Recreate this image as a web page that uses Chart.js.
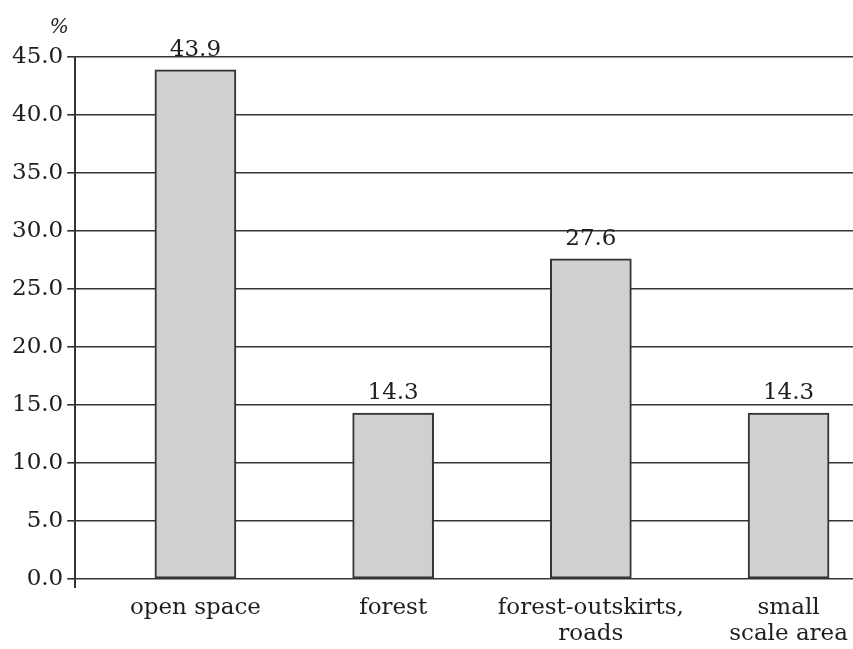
<!DOCTYPE html>
<html><head><meta charset="utf-8">
<script src="https://cdn.jsdelivr.net/npm/chart.js@4"></script>
<style>
html,body{margin:0;padding:0;background:#fff;overflow:hidden}
#clip{width:853px;height:649px;overflow:hidden;position:relative;background:#fff}
#wrap{width:960px;height:654px}
</style></head><body>
<div id="clip"><div id="wrap"><canvas id="c" width="960" height="654"></canvas></div></div>
<script>
const categories = [["open space"], ["forest"], ["forest-outskirts,", "roads"], ["small", "scale area"]];
const values = [43.9, 14.3, 27.6, 14.3];
const valueLabels = ["43.9", "14.3", "27.6", "14.3"];
const yTicks = [0, 5, 10, 15, 20, 25, 30, 35, 40, 45];
const yUnit = "%";

const FONT = "DejaVu Serif";
const INK = "#1e1e1e";
const X_MIN = -0.608, X_MAX = 3.867;

const labelPlugin = {
  id: 'labels',
  afterDatasetsDraw(chart) {
    const ctx = chart.ctx;
    const meta = chart.getDatasetMeta(0);
    ctx.save();
    ctx.fillStyle = INK;
    ctx.font = "23px '" + FONT + "'";
    ctx.textAlign = 'center';
    ctx.textBaseline = 'alphabetic';
    meta.data.forEach((bar, i) => {
      ctx.fillText(valueLabels[i], bar.x, bar.y - 14);
    });
    const ys = chart.scales.y;
    ctx.font = "italic 20px '" + FONT + "'";
    ctx.fillText(yUnit, ys.right - 16, ys.top - 24);
    ctx.restore();
  }
};

new Chart(document.getElementById('c'), {
  type: 'bar',
  data: {
    datasets: [{
      data: values.map((v, i) => ({x: i, y: v})),
      backgroundColor: '#d0d0d0',
      borderColor: '#333',
      borderWidth: 2,
      borderSkipped: false,
      barThickness: 81
    }]
  },
  options: {
    responsive: false,
    animation: false,
    layout: { padding: { left: 8, top: 57, right: 0, bottom: 0 } },
    plugins: { legend: { display: false }, tooltip: { enabled: false } },
    scales: {
      x: {
        type: 'linear',
        offset: false,
        min: X_MIN, max: X_MAX,
        afterBuildTicks(scale) {
          scale.ticks = [{value: X_MIN}].concat(categories.map((_, i) => ({value: i})));
        },
        ticks: {
          autoSkip: false, maxRotation: 0, minRotation: 0,
          padding: 7,
          color: INK,
          font: { family: FONT, size: 23, lineHeight: 1.13 },
          callback(v) { return Number.isInteger(v) && categories[v] ? categories[v] : ''; }
        },
        grid: {
          offset: false,
          drawOnChartArea: false, drawTicks: true, tickLength: 9,
          lineWidth: 2,
          color: (c) => c.index === 0 ? '#333' : 'rgba(0,0,0,0)'
        },
        border: { display: false }
      },
      y: {
        min: 0, max: 45,
        afterBuildTicks(scale) { scale.ticks = yTicks.map(v => ({value: v})); },
        ticks: {
          padding: 4, color: INK,
          font: { family: FONT, size: 23 },
          callback(v) { return Number(v).toFixed(1); }
        },
        grid: { color: '#333', lineWidth: 1.6, tickLength: 8 },
        border: { display: true, color: '#333', width: 2 }
      }
    }
  },
  plugins: [labelPlugin]
});
</script>
</body></html>
